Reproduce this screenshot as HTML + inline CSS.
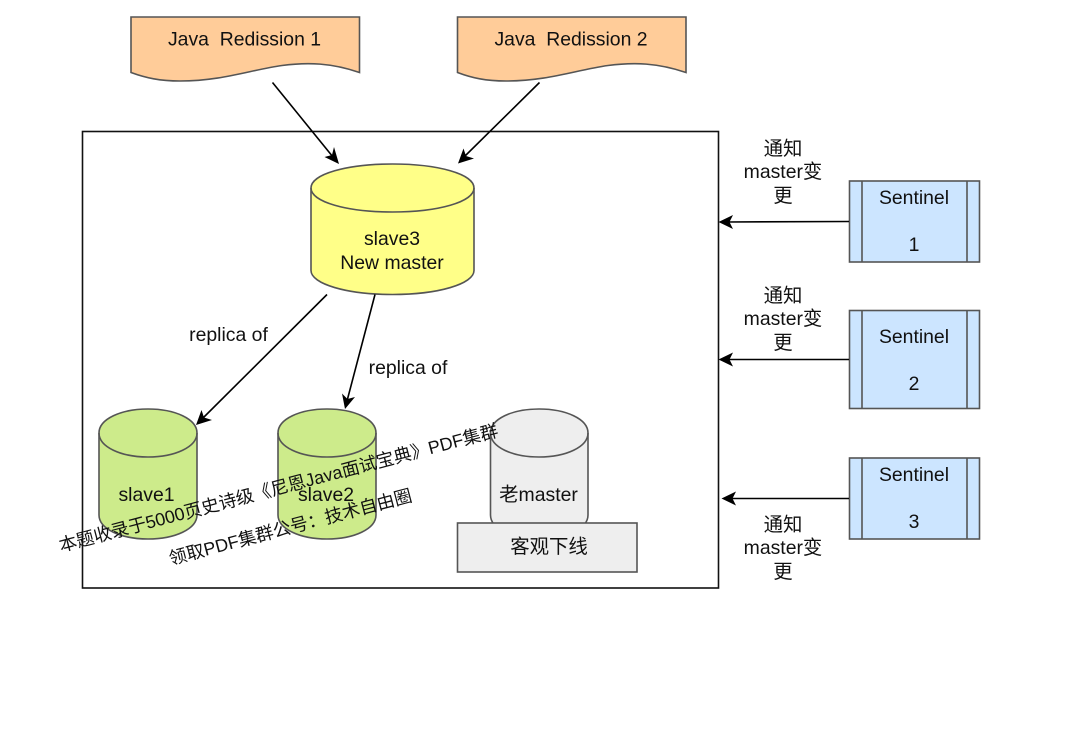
<!DOCTYPE html>
<html>
<head>
<meta charset="utf-8">
<style>
html,body{margin:0;padding:0;background:#fff;width:1080px;height:736px;overflow:hidden}
svg{display:block}
text{font-family:"Liberation Sans","Noto Sans CJK SC",sans-serif;font-size:19.4px;fill:#111;text-anchor:middle;white-space:pre}
.s{stroke:#555;stroke-width:1.6}
.l{stroke:#000;stroke-width:1.6;fill:none}
.a{fill:#000;stroke:none}
</style>
</head>
<body>
<svg width="1080" height="736" viewBox="0 0 1080 736" xmlns="http://www.w3.org/2000/svg">
<rect x="82.500" y="131.500" width="636" height="456.500" fill="#fff" stroke="#111" stroke-width="1.600"/>

<path class="s" fill="#ffcc99" d="M131 17H359.500V72.500C332 63 308 62 282 65.500C250 70 222 81 180 81C160 81 146 78 131 72.500Z"/>
<path class="s" fill="#ffcc99" d="M457.500 17H686V72.500C658 63 634 62 608 65.500C576 70 548 81 506 81C486 81 472 78 457.500 72.500Z"/>
<text x="244.500" y="45.500">Java  Redission 1</text>
<text x="571" y="45.500">Java  Redission 2</text>

<path class="s" fill="#ffff88" d="M311 188C311 174 347 164 392.500 164C438 164 474 174 474 188V270.500C474 284 438 294.500 392.500 294.500C347 294.500 311 284 311 270.500Z"/>
<path class="s" fill="none" d="M311 188C311 202 347 212 392.500 212C438 212 474 202 474 188"/>
<text x="392" y="245">slave3</text>
<text x="392" y="269">New master</text>

<path class="s" fill="#cdeb8b" d="M99 433C99 419 121 409 148 409C175 409 197 419 197 433V515C197 529 175 539 148 539C121 539 99 529 99 515Z"/>
<path class="s" fill="none" d="M99 433C99 447 121 457 148 457C175 457 197 447 197 433"/>
<text x="146.500" y="501">slave1</text>

<path class="s" fill="#cdeb8b" d="M278 433C278 419 300 409 327 409C354 409 376 419 376 433V515C376 529 354 539 327 539C300 539 278 529 278 515Z"/>
<path class="s" fill="none" d="M278 433C278 447 300 457 327 457C354 457 376 447 376 433"/>
<text x="326" y="501">slave2</text>

<path class="s" fill="#eeeeee" d="M490.500 433C490.500 419 512 409 539 409C566 409 588 419 588 433V515C588 529 566 539 539 539C512 539 490.500 529 490.500 515Z"/>
<path class="s" fill="none" d="M490.500 433C490.500 447 512 457 539 457C566 457 588 447 588 433"/>
<text x="538.500" y="501">老master</text>

<rect class="s" x="457.500" y="523" width="179.500" height="49" fill="#eeeeee"/>
<text x="549" y="553">客观下线</text>

<rect class="s" x="849.500" y="181" width="130" height="81" fill="#cce5ff"/>
<path class="s" d="M862 181V262M967 181V262"/>
<text x="914" y="204">Sentinel</text>
<text x="914" y="251">1</text>

<rect class="s" x="849.500" y="310.500" width="130" height="98" fill="#cce5ff"/>
<path class="s" d="M862 310.500V408.500M967 310.500V408.500"/>
<text x="914" y="343">Sentinel</text>
<text x="914" y="390">2</text>

<rect class="s" x="849.500" y="458" width="130" height="81" fill="#cce5ff"/>
<path class="s" d="M862 458V539M967 458V539"/>
<text x="914" y="481">Sentinel</text>
<text x="914" y="528">3</text>

<path class="l" d="M272.500 82.500L333 157"/>
<path class="a" d="M339 164L324.500 157L332 155L334 147Z"/>
<path class="l" d="M539.500 82.500L464 157"/>
<path class="a" d="M458 163.500L463.500 148.500L466 156L474 158.500Z"/>
<path class="l" d="M327 294.500L202 419"/>
<path class="a" d="M196 425L201.500 410L204 417.500L212 420Z"/>
<path class="l" d="M375 294.500L347 401"/>
<path class="a" d="M345 409L342 393.500L347.500 399L355 397Z"/>
<path class="l" d="M849 221.500L726 222"/>
<path class="a" d="M718.500 222L733 215L729.500 222L733 229Z"/>
<path class="l" d="M849 359.500L726 359.500"/>
<path class="a" d="M718.500 359.500L733 352.500L729.500 359.500L733 366.500Z"/>
<path class="l" d="M849 498.500L729 498.500"/>
<path class="a" d="M721.500 498.500L736 491.500L732.500 498.500L736 505.500Z"/>

<text x="228.500" y="341">replica of</text>
<text x="408" y="374">replica of</text>

<text x="783" y="155">通知</text>
<text x="783" y="178">master变</text>
<text x="783" y="202">更</text>
<text x="783" y="302">通知</text>
<text x="783" y="325">master变</text>
<text x="783" y="349">更</text>
<text x="783" y="531">通知</text>
<text x="783" y="554">master变</text>
<text x="783" y="578">更</text>

<text transform="translate(280 494) rotate(-14.8)" style="font-size:17.9px">本题收录于5000页史诗级《尼恩Java面试宝典》PDF集群</text>
<text transform="translate(292 533) rotate(-14.8)" style="font-size:17.9px">领取PDF集群公号：技术自由圈</text>
</svg>
</body>
</html>
